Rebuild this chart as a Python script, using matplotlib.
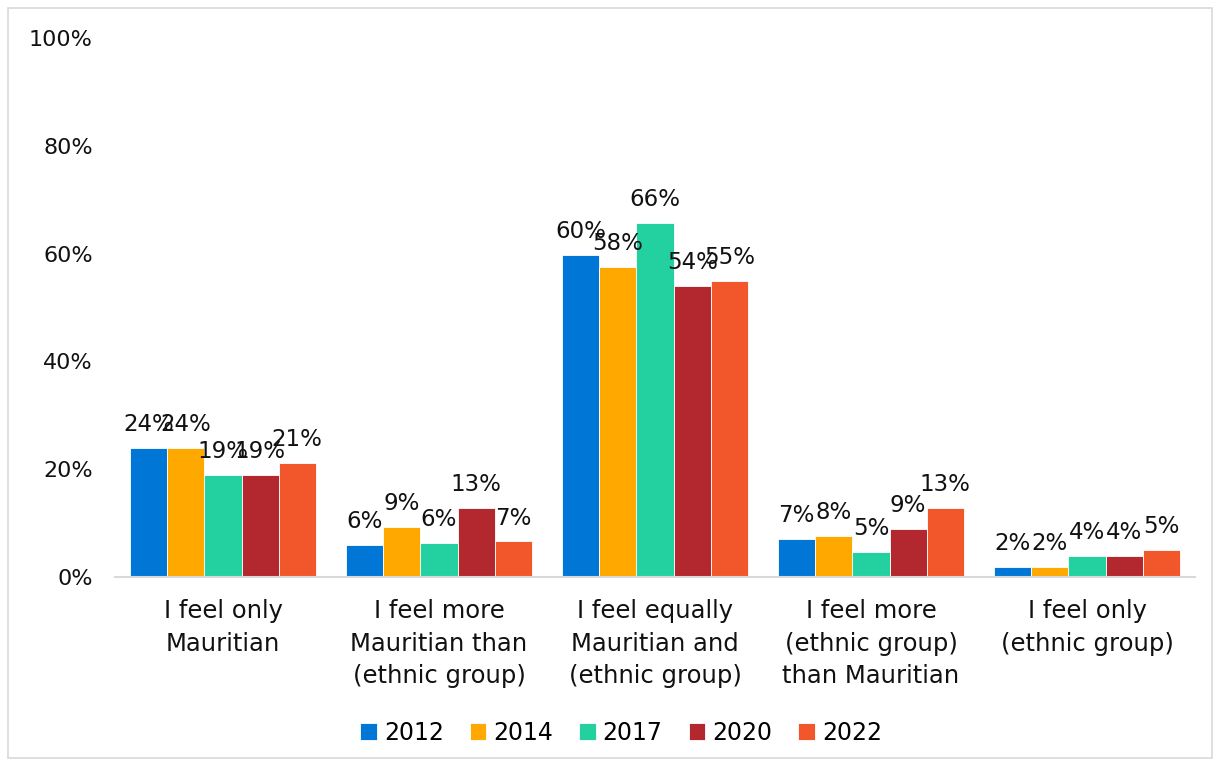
import matplotlib.pyplot as plt
import numpy as np
from matplotlib.ticker import FuncFormatter

# data
categories = ['I feel only\nMauritian',
              'I feel more\nMauritian than\n(ethnic group)',
              'I feel equally\nMauritian and\n(ethnic group)',
              'I feel more\n(ethnic group)\nthan Mauritian',
              'I feel only\n(ethnic group)']
years = ['2012', '2014', '2017', '2020', '2022']
v2012 = [23.9, 5.9, 59.7, 7.1, 1.9]
v2014 = [23.9, 9.3, 57.5, 7.6, 1.9]
v2017 = [18.9, 6.3, 65.7, 4.6, 3.9]
v2020 = [18.9, 12.8, 54.0, 8.9, 3.9]
v2022 = [21.1, 6.6, 54.9, 12.8, 5.0]
colors = ['#0077D6', '#FFA800', '#23D1A0', '#B3282E', '#F2572B']

plt.rcParams['font.family'] = ['DejaVu Sans']

fig = plt.figure(figsize=(12.19, 7.64), dpi=100)
ax = fig.add_axes([115 / 1219, (764 - 577) / 764, 1080 / 1219, (577 - 38) / 764])

x = np.arange(len(categories))
w = 0.172
series = [v2012, v2014, v2017, v2020, v2022]
for i, vals in enumerate(series):
    pos = x + (i - 2) * w
    ax.bar(pos, vals, w, color=colors[i], edgecolor='white', linewidth=0.6, label=years[i])
    for px, v in zip(pos, vals):
        ax.text(px, v + 2.2, '%d%%' % round(v), ha='center', va='bottom', fontsize=16.5, color='#111111')

ax.set_xlim(-0.5, 4.5)
ax.set_ylim(0, 100)
ax.set_yticks([0, 20, 40, 60, 80, 100])
ax.yaxis.set_major_formatter(FuncFormatter(lambda v, p: '%d%%' % v))
ax.set_xticks(x)
ax.set_xticklabels(categories, fontsize=17.5, color='#111111', linespacing=1.45)
ax.tick_params(axis='y', labelsize=16, colors='#111111', length=0, pad=16)
ax.tick_params(axis='x', length=0, pad=16)
for s in ['top', 'right', 'left']:
    ax.spines[s].set_visible(False)
ax.spines['bottom'].set_color('#d9d9d9')
ax.spines['bottom'].set_linewidth(1.5)

ax.legend(loc='center', bbox_to_anchor=(621 / 1219, (764 - 733) / 764), bbox_transform=fig.transFigure,
          ncol=5, frameon=False, fontsize=17, handlelength=0.7, handleheight=0.7,
          handletextpad=0.3, columnspacing=1.1)

# light frame round the chart
fig.patches.append(plt.Rectangle((8 / 1219, 6 / 764), 1204 / 1219, 750 / 764, transform=fig.transFigure,
                                 fill=False, edgecolor='#d9d9d9', linewidth=1.2))

plt.savefig('out.png', dpi=100)
